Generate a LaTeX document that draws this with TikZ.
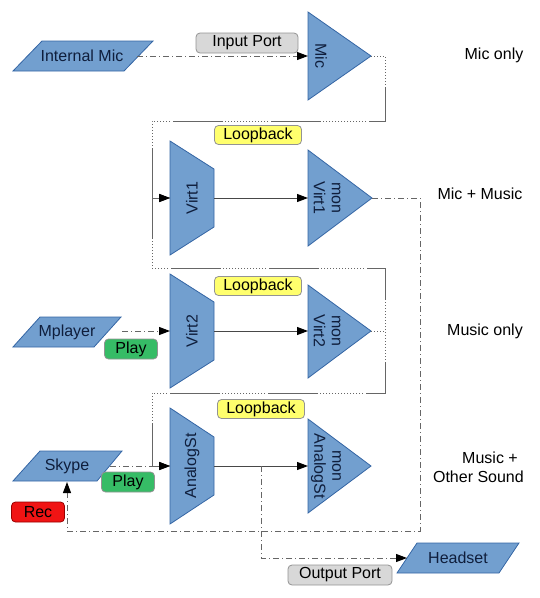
\documentclass[tikz,border=0pt]{standalone}
\usepackage{fontspec}
\setmainfont{Liberation Sans}
\usetikzlibrary{arrows.meta}
\definecolor{shfill}{HTML}{729FCF}
\definecolor{shline}{HTML}{3465A4}
\definecolor{shtext}{HTML}{0F1E3C}
\definecolor{tgray}{HTML}{D8D8D8}
\definecolor{tyellow}{HTML}{FFFF6D}
\definecolor{tgreen}{HTML}{36BC66}
\definecolor{tred}{HTML}{F01414}
\definecolor{conn}{HTML}{666666}
\tikzset{
  body/.style={fill=shfill, draw=shline, line width=0.8pt, line join=miter},
  bodytext/.style={text=shtext, font=\fontsize{16}{18}\selectfont, inner sep=0pt, align=center},
  tagbox/.style={rounded corners=4pt, draw=gray!85, line width=0.8pt, inner sep=0pt,
    minimum height=20pt, font=\fontsize{16}{18}\selectfont, text=black},
  sidetext/.style={font=\fontsize{16}{19}\selectfont, text=black, inner sep=0pt},
  tip/.style={-{Triangle[length=11pt,width=8pt,color=black]}},
  flow/.style={draw=conn, line width=1pt, dash pattern=on 6pt off 3pt on 1pt off 3pt},
  loopline/.style={draw=conn, line width=1pt, dash pattern=on 1pt off 2pt on 1pt off 2pt on 1pt off 2pt on 1pt off 2pt on 1pt off 2pt on 1pt off 2pt on 1pt off 2pt on 1pt off 2pt on 1pt off 2pt on 1pt off 2pt on 1pt off 2pt on 1pt off 2pt on 1pt off 2pt on 1pt off 2pt on 1pt off 2pt on 50pt off 3pt},
  direct/.style={draw=conn!70!black, line width=1pt},
}
\begin{document}
\begin{tikzpicture}[x=1pt, y=-1pt]
\useasboundingbox (0,0) rectangle (540,598);

% ---------- source / sink parallelograms ----------
\path[body] (13,71) -- (124,71) -- (153,41) -- (42,41) -- cycle;
\node[bodytext] (imic) at (82,56) {Internal Mic};
\path[body] (13,347) -- (94,347) -- (121,317) -- (40,317) -- cycle;
\node[bodytext] (mplayer) at (67,332) {Mplayer};
\path[body] (13,481) -- (97,481) -- (122,451) -- (40,451) -- cycle;
\node[bodytext] (skype) at (67,466) {Skype};
\path[body] (397,573) -- (499,573) -- (519,543) -- (417,543) -- cycle;
\node[bodytext] (headset) at (458,558) {Headset};

% ---------- Mic amplifier ----------
\path[body] (308,12) -- (371,56) -- (308,100) -- cycle;
\node[bodytext, rotate=-90] (mic) at (321,56) {Mic};

% ---------- virtual sinks (trapezoids) ----------
\path[body] (170,141) -- (214,169) -- (214,227) -- (170,255) -- cycle;
\node[bodytext, rotate=90] (virt1) at (192,198) {Virt1};
\path[body] (170,274) -- (214,302) -- (214,360) -- (170,388) -- cycle;
\node[bodytext, rotate=90] (virt2) at (192,331) {Virt2};
\path[body] (170,408) -- (214,437) -- (214,495) -- (170,524) -- cycle;
\node[bodytext, rotate=90] (analogst) at (192,466) {AnalogSt};

% ---------- monitors (triangles) ----------
\path[body] (308,150) -- (372,198) -- (308,246) -- cycle;
\node[bodytext, rotate=-90] (mon1) at (327,198) {mon\\Virt1};
\path[body] (308,285) -- (371,331) -- (308,378) -- cycle;
\node[bodytext, rotate=-90] (mon2) at (327,331) {mon\\Virt2};
\path[body] (308,419) -- (371,466) -- (308,513) -- cycle;
\node[bodytext, rotate=-90] (monast) at (326,466) {mon\\AnalogSt};

% ---------- ports ----------
\coordinate (imic-out) at (137,56);
\coordinate (mic-in) at (308,56);
\coordinate (mic-out) at (371,56);
\coordinate (virt1-in) at (170,198);
\coordinate (virt1-out) at (214,198);
\coordinate (mon1-in) at (308,198);
\coordinate (mon1-out) at (372,198);
\coordinate (mplayer-out) at (122,331);
\coordinate (virt2-in) at (170,331);
\coordinate (virt2-out) at (214,331);
\coordinate (mon2-in) at (308,331);
\coordinate (mon2-out) at (371,331);
\coordinate (skype-out) at (110,466);
\coordinate (skype-in) at (67,482);
\coordinate (ast-in) at (170,466);
\coordinate (ast-out) at (214,466);
\coordinate (ast-tap) at (261,466);
\coordinate (monast-in) at (308,466);
\coordinate (headset-in) at (407,558);

% ---------- connectors ----------
\draw[flow, tip] (imic-out) -- (mic-in);
\draw[loopline, tip] (mic-out) -- (385,56) -- (385,121) -- (152,121) -- (152,198) -- (virt1-in);
\draw[loopline, tip] (mon2-out) -- (385,331) -- (385,268) -- (152,268) -- (152,198) -- (virt1-in);
\draw[loopline, tip] (mon2-out) -- (385,331) -- (385,393) -- (152,393) -- (152,466) -- (ast-in);
\draw[flow, tip] (mplayer-out) -- (virt2-in);
\draw[direct, tip] (virt1-out) -- (mon1-in);
\draw[direct, tip] (virt2-out) -- (mon2-in);
\draw[direct, tip] (ast-out) -- (monast-in);
\draw[flow, tip] (mon1-out) -- (420,198) -- (420,531) -- (67,531) -- (skype-in);
\draw[flow, tip] (skype-out) -- (ast-in);
\draw[flow, tip] (ast-tap) -- (261,558) -- (headset-in);

% ---------- tags ----------
\node[tagbox, fill=tgray, minimum width=102pt] (inport) at (247,43) {Input Port};
\node[tagbox, fill=tyellow, minimum width=87pt, minimum height=19pt] (lb1) at (258,135) {Loopback};
\node[tagbox, fill=tyellow, minimum width=87pt, minimum height=19pt] (lb2) at (258,286) {Loopback};
\node[tagbox, fill=tyellow, minimum width=87pt, minimum height=19pt] (lb3) at (261,409) {Loopback};
\node[tagbox, fill=tgreen, minimum width=53pt] (play1) at (131,349) {Play};
\node[tagbox, fill=tgreen, minimum width=53pt] (play2) at (128,482) {Play};
\node[tagbox, fill=tred, draw=red!60!black, minimum width=53pt] (rec) at (38,512) {Rec};
\node[tagbox, fill=tgray, minimum width=104pt] (outport) at (340,575) {Output Port};

% ---------- side labels ----------
\node[sidetext] (l1) at (494,55) {Mic only};
\node[sidetext] (l2) at (480,194) {Mic + Music};
\node[sidetext] (l3) at (485,331) {Music only};
\node[sidetext, align=right, anchor=east] (l4) at (524,467) {Music +\kern6pt\\Other Sound};
\end{tikzpicture}
\end{document}
